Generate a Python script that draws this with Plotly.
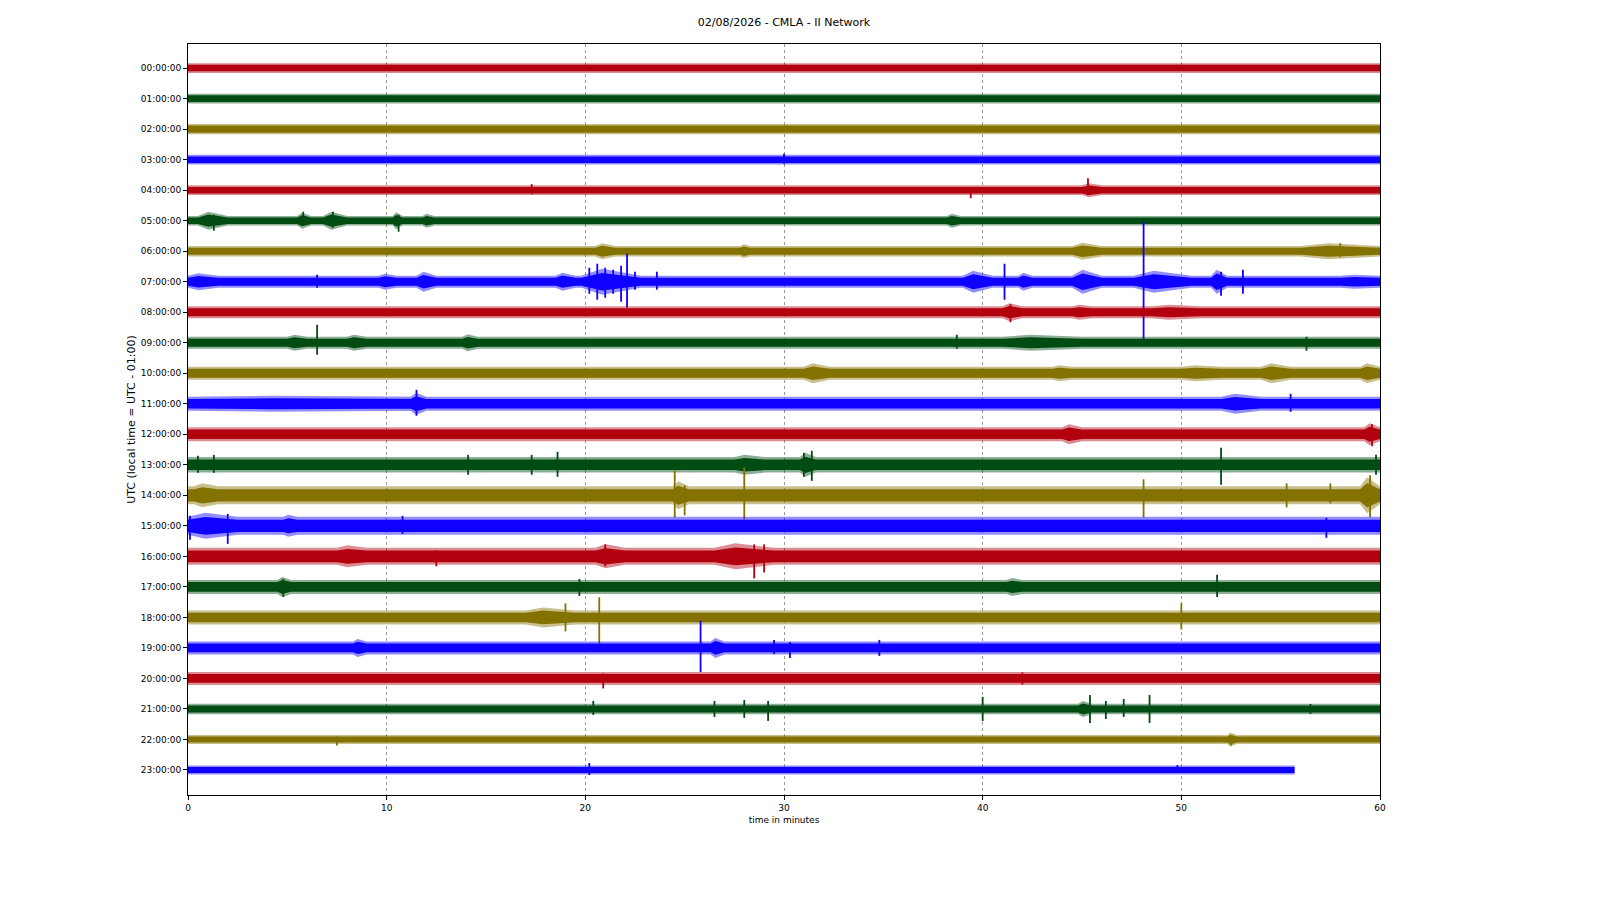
import plotly.graph_objects as go

# Helicorder of one day, one row per hour, obspy-style colours.
TITLE = "02/08/2026 - CMLA - II Network"
HOUR_LABELS = ["%02d:00:00" % h for h in range(24)]
COLORS = ["#B2000F", "#004C12", "#847200", "#0E01FF"]

# amplitude in relative units (30.5 units = one hour row spacing)
AMP_PER_ROW = 30.5

# noise-floor half amplitude (peaks) per hour row
BASE_AMP = [4.8, 4.8, 5.2, 4.8, 4.8, 4.8, 5.2, 6.0, 6.0, 6.0, 6.5, 7.0,
            7.0, 7.8, 9.0, 9.0, 8.5, 7.0, 7.0, 6.5, 6.5, 5.2, 4.5, 4.5]

# minute at which each row's record stops
ROW_END = [60] * 23 + [55.7]

# longer noisy bursts: (start minute, end minute, peak half amplitude)
BURSTS = {
    4: [(45.0, 46.0, 7)],
    5: [(0.5, 2.0, 9), (5.5, 6.2, 8), (6.8, 8.0, 9), (10.3, 10.8, 8.5),
        (11.8, 12.4, 7), (38.2, 38.9, 7)],
    6: [(20.5, 21.5, 8), (27.8, 28.3, 7), (44.5, 46.0, 8.5), (56.0, 60.0, 8)],
    7: [(0.0, 1.5, 8.5), (9.6, 10.5, 8), (11.5, 12.5, 10), (18.5, 19.5, 9),
        (19.8, 22.8, 13), (39.0, 40.5, 11), (41.8, 42.5, 9), (44.5, 46.0, 12),
        (47.6, 50.5, 11), (51.5, 52.3, 12), (58.0, 60.0, 7)],
    8: [(41.0, 42.0, 9), (44.5, 45.5, 7.5), (48.5, 51.0, 7.5)],
    9: [(5.0, 6.0, 8), (8.0, 9.0, 8), (13.8, 14.6, 8.5), (41.0, 45.0, 8)],
    10: [(31.0, 32.3, 10), (43.5, 44.5, 8), (50.0, 52.0, 8), (54.0, 55.5, 10),
         (59.0, 60.0, 10)],
    11: [(0.0, 12.0, 8), (11.2, 12.0, 11), (52.0, 54.0, 10)],
    12: [(44.0, 45.0, 10), (59.2, 60.0, 11)],
    13: [(27.5, 29.0, 10), (30.8, 31.6, 12)],
    14: [(0.3, 1.5, 12), (24.4, 25.2, 14), (59.0, 60.0, 18)],
    15: [(0.0, 2.5, 13), (4.8, 5.5, 11)],
    16: [(7.5, 9.0, 11), (20.5, 22.0, 12), (26.5, 29.5, 13)],
    17: [(4.5, 5.2, 10), (41.2, 42.0, 9)],
    18: [(17.0, 19.5, 10)],
    19: [(8.3, 9.0, 9), (26.3, 27.0, 10)],
    21: [(44.8, 45.5, 8)],
    22: [(52.3, 52.8, 7)],
}

# short transients: (minute, amplitude upwards, amplitude downwards)
SPIKES = {
    3: [(30.0, 6, 4)],
    4: [(17.3, 6, 4), (39.4, 3, 8), (45.3, 12, 5)],
    5: [(1.3, 6, 10), (5.8, 9, 5), (7.3, 9, 7), (10.6, 6, 11)],
    6: [(58.0, 8, 6)],
    7: [(6.5, 7, 6), (20.2, 14, 12), (20.6, 18, 18), (21.0, 14, 16),
        (21.4, 12, 12), (21.8, 16, 20), (22.1, 28, 26), (22.5, 10, 8),
        (23.6, 10, 8), (41.1, 18, 18), (48.1, 60, 58), (52.0, 10, 14),
        (53.1, 12, 12)],
    8: [(41.4, 8, 10)],
    9: [(6.5, 18, 12), (38.7, 8, 6), (56.3, 6, 8)],
    11: [(11.5, 14, 12), (55.5, 10, 8)],
    12: [(59.6, 10, 12)],
    13: [(0.5, 9, 8), (1.3, 10, 8), (14.1, 10, 10), (17.3, 10, 10),
         (18.6, 13, 12), (31.0, 12, 12), (31.4, 14, 16), (52.0, 17, 20),
         (59.8, 10, 10)],
    14: [(24.5, 25, 22), (25.0, 10, 20), (28.0, 28, 24), (48.1, 16, 22),
         (55.3, 12, 12), (57.5, 12, 8), (59.5, 20, 22)],
    15: [(0.1, 10, 14), (2.0, 12, 18), (10.8, 10, 8), (57.3, 8, 12)],
    16: [(12.5, 6, 10), (21.0, 12, 10), (28.5, 12, 22), (29.0, 12, 16)],
    17: [(4.8, 8, 10), (19.7, 8, 9), (51.8, 12, 10)],
    18: [(19.0, 14, 14), (20.7, 20, 26), (50.0, 14, 12)],
    19: [(25.8, 27, 24), (29.5, 8, 6), (30.3, 6, 10), (34.8, 8, 8)],
    20: [(20.9, 5, 10), (42.0, 6, 6)],
    21: [(20.4, 8, 6), (26.5, 8, 8), (28.0, 9, 9), (29.2, 8, 12),
         (40.0, 12, 12), (45.4, 14, 14), (46.2, 8, 10), (47.1, 10, 8),
         (48.4, 14, 14), (56.5, 5, 5)],
    22: [(7.5, 3, 6), (52.5, 3, 6)],
    23: [(20.2, 7, 5), (49.8, 5, 3)],
}


def rgba(hex_color, alpha):
    h = hex_color.lstrip("#")
    return "rgba(%d,%d,%d,%s)" % (int(h[0:2], 16), int(h[2:4], 16), int(h[4:6], 16), alpha)


def envelope(row, scale):
    """Polygons (None separated) for the noise band and the burst spindles."""
    xs, ys = [], []
    b = BASE_AMP[row] * scale / AMP_PER_ROW
    xs += [0.0, ROW_END[row], ROW_END[row], 0.0, 0.0, None]
    ys += [row - b, row - b, row + b, row + b, row - b, None]
    for t0, t1, a in BURSTS.get(row, []):
        d = a * scale / AMP_PER_ROW
        tp = t0 + 0.35 * (t1 - t0)
        xs += [t0, tp, t1, t1, tp, t0, t0, None]
        ys += [row - b, row - d, row - b, row + b, row + d, row + b, row - b, None]
    return xs, ys


fig = go.Figure()

for row, label in enumerate(HOUR_LABELS):
    color = COLORS[row % len(COLORS)]
    # faint outer envelope, then the dense core of the trace
    for scale, fc in [(1.0, rgba(color, 0.45)), (0.68, color)]:
        xs, ys = envelope(row, scale)
        fig.add_trace(go.Scatter(x=xs, y=ys, mode="lines", fill="toself",
                                 fillcolor=fc, line=dict(width=0),
                                 hoverinfo="skip", showlegend=False))
    sx, sy = [], []
    for t, up, down in SPIKES.get(row, []):
        sx += [t, t, None]
        sy += [row - up / AMP_PER_ROW, row + down / AMP_PER_ROW, None]
    if sx:
        fig.add_trace(go.Scatter(x=sx, y=sy, mode="lines",
                                 line=dict(color=color, width=1.8),
                                 hoverinfo="skip", showlegend=False))

axis_font = dict(family="DejaVu Sans", size=9, color="#000")
# page body keeps an 8px margin, so the figure is 16px smaller than the window
fig.update_layout(
    width=1584, height=884,
    paper_bgcolor="white", plot_bgcolor="white",
    margin=dict(l=180, r=212, t=36, b=97),
    font=dict(family="DejaVu Sans", color="#000"),
    title=dict(text=TITLE, x=(180 + 596) / 1584, xanchor="center",
               y=1 - 14 / 884, yanchor="middle",
               font=dict(family="DejaVu Sans", size=11)),
    xaxis=dict(range=[0, 60], tickvals=[0, 10, 20, 30, 40, 50, 60],
               showgrid=True, gridcolor="#9a9a9a", griddash="dot", gridwidth=1,
               zeroline=False, showline=True, linecolor="black", linewidth=1,
               mirror=True, ticks="outside", ticklen=4, tickcolor="black",
               tickfont=axis_font,
               title=dict(text="time in minutes", font=axis_font, standoff=4)),
    yaxis=dict(range=[23.82, -0.79], tickvals=list(range(24)),
               ticktext=HOUR_LABELS, showgrid=False, zeroline=False,
               showline=True, linecolor="black", linewidth=1, mirror=True,
               ticks="outside", ticklen=4, tickcolor="black", tickfont=axis_font,
               title=dict(text="UTC (local time = UTC - 01:00)",
                          font=dict(family="DejaVu Sans", size=11), standoff=2)),
)

fig.write_html("out.html")
